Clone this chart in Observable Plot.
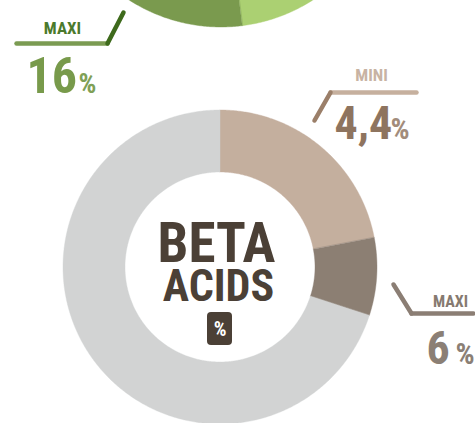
<!DOCTYPE html>
<html><head><meta charset="utf-8">
<script src="https://cdn.jsdelivr.net/npm/d3@7"></script>
<script src="https://cdn.jsdelivr.net/npm/@observablehq/plot@0.6"></script>
<style>html,body{margin:0;padding:0;background:#fff;overflow:hidden} #chart svg{display:block}</style>
</head><body><div id="chart"></div>
<script>
// ---- data ----
const scaleMax = 20;                       // full ring = 20 %
const betaSegments = ["MINI", "MAXI", "REST"];
const betaValues = [4.4, 1.6, 14];
const greenSegments = ["MINI", "MAXI", "REST"];
const greenValues = [9.6, 6.4, 4];
const betaTitle = ["BETA", "ACIDS"];
const unitLabel = "%";
const betaMini = {label: "MINI", value: "4,4"};
const betaMaxi = {label: "MAXI", value: "6"};
const greenMaxi = {label: "MAXI", value: "16"};

// ---- styles ----
const betaColors = ["#c4af9e", "#8c7f73", "#d2d3d3"];
const greenColors = ["#abd072", "#7a9a4e", "#d2d3d3"];
const FONT = "'Liberation Sans Narrow','Roboto Condensed','DejaVu Sans Condensed','Liberation Sans',sans-serif";

// ---- geometry (layout) ----
const beta = {cx: 220, cy: 267, r0: 95, r1: 157};
const green = {cx: 221, cy: -143, r0: 108, r1: 170};

// annular sectors as areas: (x1,y1) inner edge, (x2,y2) outer edge
function sectorRows(values, segs, g) {
  const rows = [];
  let acc = 0;
  values.forEach((v, i) => {
    const a0 = acc / scaleMax * 2 * Math.PI;
    acc += v;
    const a1 = acc / scaleMax * 2 * Math.PI;
    const n = Math.max(2, Math.ceil((a1 - a0) * 180 / Math.PI) * 2);
    for (let k = 0; k <= n; k++) {
      const a = a0 + (a1 - a0) * k / n, s = Math.sin(a), c = Math.cos(a);
      rows.push({seg: segs[i], x1: g.cx + g.r0 * s, y1: g.cy - g.r0 * c, x2: g.cx + g.r1 * s, y2: g.cy - g.r1 * c});
    }
  });
  return rows;
}
function circleRows(g, r0, r1) {
  const rows = [];
  for (let k = 0; k <= 720; k++) {
    const a = k / 720 * 2 * Math.PI, s = Math.sin(a), c = Math.cos(a);
    rows.push({x1: g.cx + r0 * s, y1: g.cy - r0 * c, x2: g.cx + r1 * s, y2: g.cy - r1 * c});
  }
  return rows;
}

const leaders = [
  {x1: 16, y1: 43, x2: 107, y2: 43, c: "#7b9b52"},
  {x1: 107, y1: 43, x2: 123, y2: 12, c: "#3e6a1c"},
  {x1: 330, y1: 92, x2: 416, y2: 92, c: "#c6b09e"},
  {x1: 330, y1: 92, x2: 314, y2: 120, c: "#9b7f69"},
  {x1: 393, y1: 284, x2: 411, y2: 313, c: "#8b7e74"},
  {x1: 411, y1: 313, x2: 473, y2: 313, c: "#8b7e74"}
];

const txt = (text, x, y, opts) => Plot.text([text], {x: () => x, y: () => y, text: d => d, fontFamily: FONT, fontWeight: "bold", lineAnchor: "bottom", ...opts});
const area = (rows, opts) => Plot.area(rows, {x1: "x1", y1: "y1", x2: "x2", y2: "y2", ...opts});

const plot = Plot.plot({
  width: 475, height: 423, margin: 0,
  x: {domain: [0, 475], axis: null},
  y: {domain: [0, 423], range: [0, 423], axis: null},
  color: {domain: ["gMINI", "gMAXI", "gREST", "bMINI", "bMAXI", "bREST"], range: [...greenColors, ...betaColors]},
  style: {fontStretch: "condensed", background: "#fff"},
  marks: [
    area(circleRows(green, green.r0, green.r1 + 0.6), {fill: "#c8ccc0", ariaLabel: "shadowG"}),
    area(sectorRows(greenValues, greenSegments.map(s => "g" + s), green), {z: "seg", fill: "seg", stroke: "seg", strokeWidth: 0.4}),
    area(circleRows(beta, beta.r0, beta.r1 + 0.6), {fill: "#c4c4c4", ariaLabel: "shadowB"}),
    area(sectorRows(betaValues, betaSegments.map(s => "b" + s), beta), {z: "seg", fill: "seg", stroke: "seg", strokeWidth: 0.4}),
    area(circleRows(beta, 0, beta.r0), {fill: "#fff", stroke: "#bdbdbd", strokeWidth: 0.6, ariaLabel: "hole"}),
    Plot.link(leaders, {x1: "x1", y1: "y1", x2: "x2", y2: "y2", stroke: "c", strokeWidth: 4.5, strokeLinecap: "round"}),
    // green labels
    txt(greenMaxi.label, 62, 33, {fontSize: 17, fill: "#4b7a2c"}),
    txt(greenMaxi.value, 26, 92, {fontSize: 50, fill: "#789a4b", textAnchor: "start"}),
    txt(unitLabel, 78, 92, {fontSize: 28, fill: "#7fa056", textAnchor: "start"}),
    // beta mini
    txt(betaMini.label, 371, 80, {fontSize: 17, fill: "#c8b3a3"}),
    txt(betaMini.value, 334, 138, {fontSize: 46, fill: "#8e745f", textAnchor: "start"}),
    txt(unitLabel, 390, 138, {fontSize: 30, fill: "#a28c7b", textAnchor: "start"}),
    // beta maxi
    txt(betaMaxi.label, 450, 306, {fontSize: 16, fill: "#867a70"}),
    txt(betaMaxi.value, 426, 363, {fontSize: 46, fill: "#8b7f75", textAnchor: "start"}),
    txt(unitLabel, 455, 363, {fontSize: 30, fill: "#8b7f75", textAnchor: "start"}),
    // center
    txt(betaTitle[0], 216, 261, {fontSize: 55, fill: "#4b4036"}),
    txt(betaTitle[1], 218, 300, {fontSize: 44, fill: "#4b4036"}),
    Plot.rect([0], {x1: () => 207, x2: () => 232, y1: () => 312, y2: () => 345, fill: "#4b4036", rx: 4}),
    Plot.text([unitLabel], {x: () => 219.5, y: () => 329, text: d => d, fill: "#fff", fontSize: 20, fontFamily: FONT, fontWeight: "bold"})
  ]
});
const sh = (sel, f) => plot.querySelectorAll(`g[aria-label="${sel}"]`).forEach(g => g.style.filter = f);
sh("shadowG", "drop-shadow(0px 2px 2px rgba(0,0,0,0.3))");
sh("shadowB", "drop-shadow(0px 1px 2px rgba(0,0,0,0.25))");
sh("hole", "drop-shadow(0px 0px 1.5px rgba(0,0,0,0.2))");
document.getElementById("chart").appendChild(plot);
</script>
</body></html>
